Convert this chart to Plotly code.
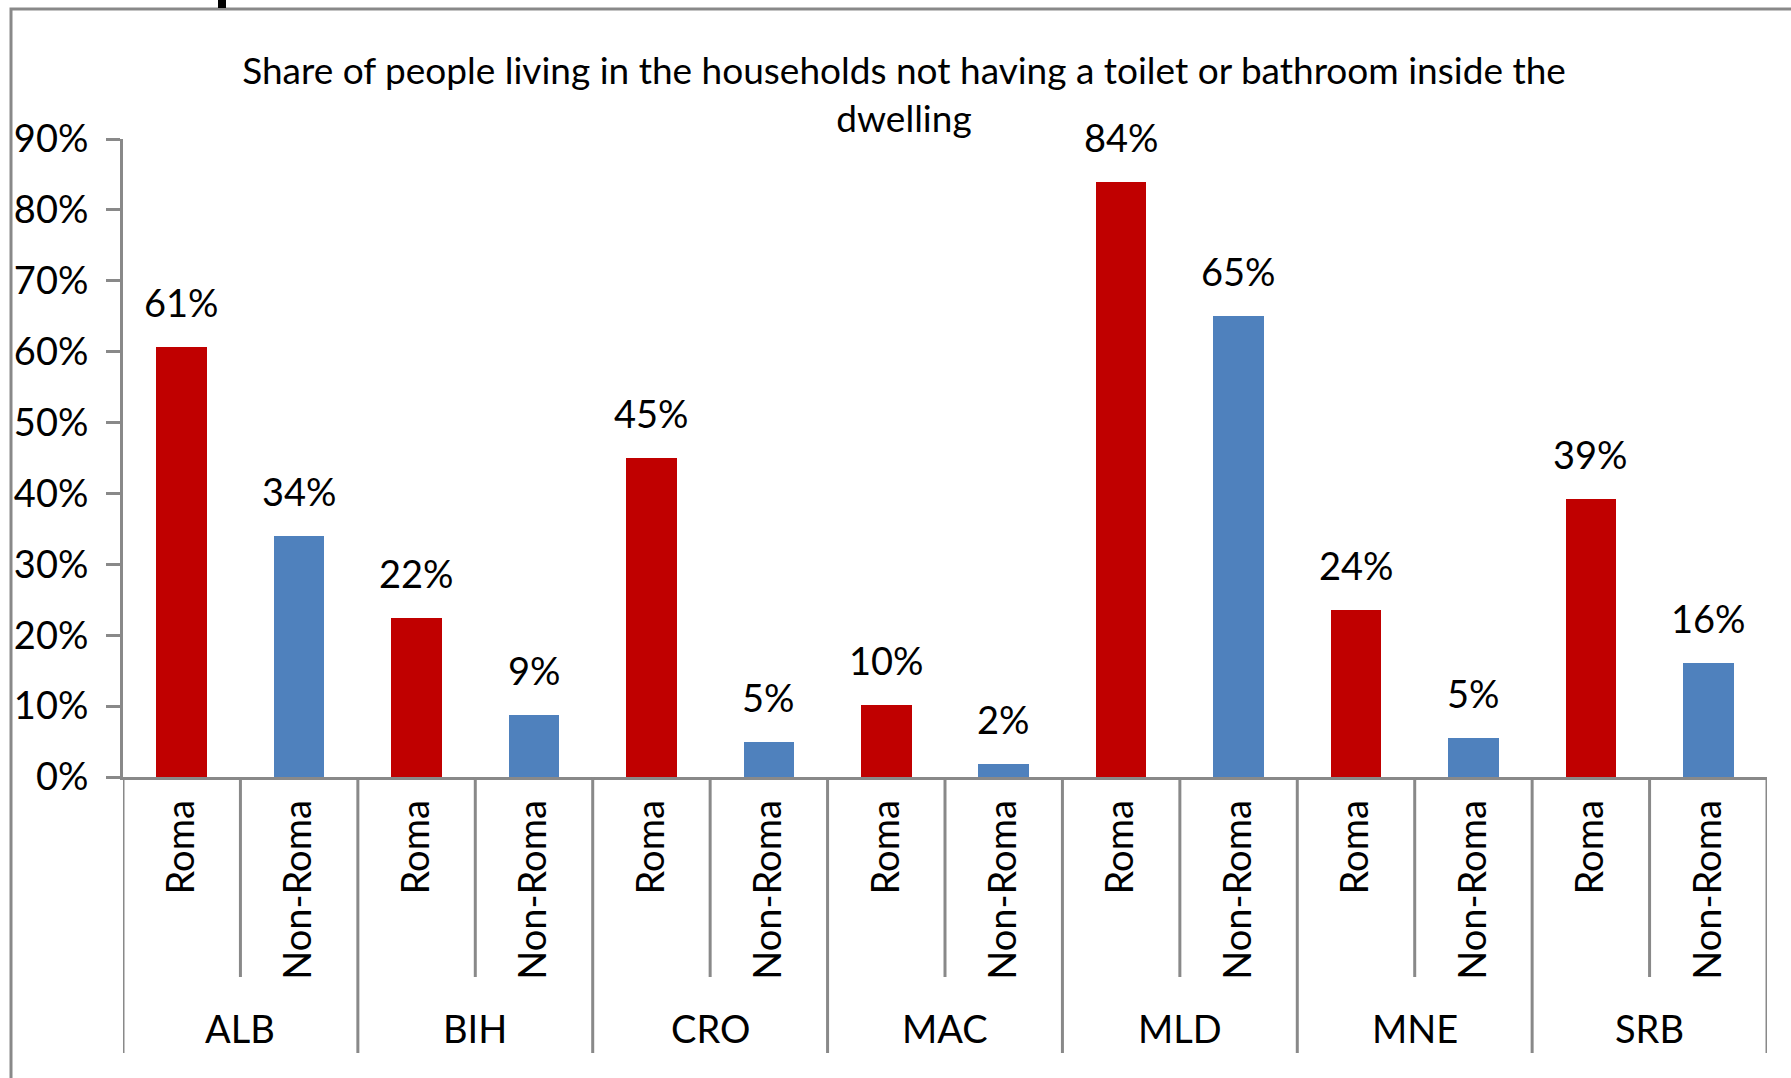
import plotly.graph_objects as go

countries = ["ALB", "BIH", "CRO", "MAC", "MLD", "MNE", "SRB"]
groups = ["Roma", "Non-Roma"]
roma = [0.606, 0.224, 0.450, 0.102, 0.839, 0.236, 0.392]
non_roma = [0.340, 0.087, 0.050, 0.019, 0.650, 0.055, 0.161]
roma_labels = ["61%", "22%", "45%", "10%", "84%", "24%", "39%"]
non_roma_labels = ["34%", "9%", "5%", "2%", "65%", "5%", "16%"]
colors = {"Roma": "#C00000", "Non-Roma": "#4F81BD"}
title = "Share of people living in the households not having a toilet or bathroom inside the<br>dwelling"

FONT = "Lato, 'Open Sans', sans-serif"
GRAY = "#898989"
FS = 38

xs, ys, cols, labs, ticktext = [], [], [], [], []
for i, c in enumerate(countries):
    for j, g in enumerate(groups):
        xs.append(2 * i + j)
        ys.append(roma[i] if j == 0 else non_roma[i])
        labs.append(roma_labels[i] if j == 0 else non_roma_labels[i])
        cols.append(colors[g])
        ticktext.append(g)

fig = go.Figure()
fig.add_trace(go.Bar(x=xs, y=ys, marker=dict(color=cols, line=dict(width=0)), width=0.43,
                     hoverinfo="skip"))

W, H = 1791, 1078
L, R, T, B = 123, 24, 139, 301
ph = H - T - B
pw = W - L - R

def py(px):  # pixel y -> paper y
    return (H - B - px) / ph

def pxp(px):
    return (px - L) / pw

annotations = []
for x, y, t in zip(xs, ys, labs):
    annotations.append(dict(x=x, y=y, xref="x", yref="y", text=t, showarrow=False,
                            yanchor="middle", yshift=45, font=dict(size=FS, color="black", family=FONT)))
for i, c in enumerate(countries):
    annotations.append(dict(x=2 * i + 0.5, y=py(1028), xref="x", yref="paper", text=c, showarrow=False,
                            yanchor="middle", font=dict(size=FS, color="black", family=FONT)))

shapes = []
n = len(xs)
for k in range(n + 1):
    bottom = py(1053) if k % 2 == 0 else py(977)
    shapes.append(dict(type="line", xref="x", yref="paper", x0=k - 0.5, x1=k - 0.5, y0=0, y1=bottom,
                       line=dict(color=GRAY, width=3)))
# outer frame
shapes.append(dict(type="rect", xref="paper", yref="paper", x0=pxp(11), x1=pxp(1830), y0=py(1120), y1=py(9),
                   line=dict(color=GRAY, width=3), fillcolor="rgba(0,0,0,0)"))
shapes.append(dict(type="rect", xref="paper", yref="paper", x0=pxp(218), x1=pxp(226), y0=py(8), y1=py(-5),
                   line=dict(width=0), fillcolor="black"))

fig.update_layout(
    width=W, height=H,
    margin=dict(l=L, r=R, t=T, b=B, pad=0),
    plot_bgcolor="white", paper_bgcolor="white",
    showlegend=False,
    bargap=0,
    font=dict(family=FONT, size=FS, color="black"),
    title=dict(text=title, x=904 / W, xanchor="center", y=1 - 84 / H, yanchor="middle",
               font=dict(size=37, family=FONT, color="black")),
    annotations=annotations,
    shapes=shapes,
)
fig.update_yaxes(range=[0, 0.9], dtick=0.1, tickformat=".0%", showgrid=False, zeroline=False,
                 showline=True, linecolor=GRAY, linewidth=3, ticks="outside", ticklen=14,
                 tickwidth=3, tickcolor=GRAY, ticklabelstandoff=10,
                 tickfont=dict(size=FS, family=FONT, color="black"))
fig.update_xaxes(range=[-0.5, n - 0.5], tickvals=xs, ticktext=ticktext, tickangle=-90,
                 showgrid=False, zeroline=False, showline=True, linecolor=GRAY, linewidth=3,
                 ticks="", ticklabelstandoff=5,
                 tickfont=dict(size=FS, family=FONT, color="black"))

fig.write_html("out.html", config={"displayModeBar": False},
               post_script="document.body.style.margin='0';document.body.style.overflow='hidden';")
